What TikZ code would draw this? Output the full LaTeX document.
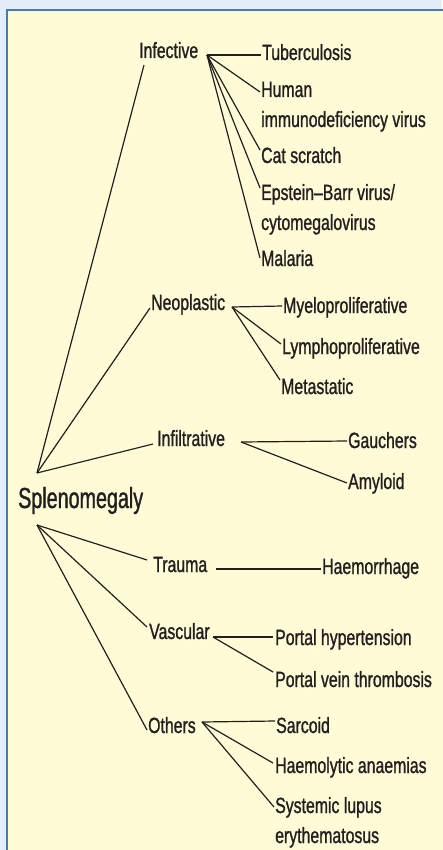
\documentclass[tikz,border=0pt]{standalone}
\usepackage{fontspec}
\setmainfont{Liberation Sans}[FakeStretch=0.72,FakeBold=1.1]
\newfontfamily\rootfont{Liberation Sans}[FakeStretch=0.68,FakeBold=1.1]
\usetikzlibrary{calc}
\definecolor{bgblue}{HTML}{E3EEFA}
\definecolor{frameblue}{HTML}{4B7BAA}
\definecolor{paper}{HTML}{FFFBD7}
\definecolor{ink}{HTML}{231F20}
\begin{document}
\begin{tikzpicture}[x=1pt,y=-1pt,
  lbl/.style={anchor=base west, inner sep=0pt, text=ink, font=\fontsize{22}{26}\selectfont},
  rootlbl/.style={anchor=base west, inner sep=0pt, text=ink, font=\rootfont\fontsize{29}{33}\selectfont},
  conn/.style={draw=ink, line width=1.2pt}]
\useasboundingbox (0,0) rectangle (442,850);
\fill[bgblue] (0,0) rectangle (442,850);
\draw[line width=2pt, draw=frameblue, fill=paper] (7,10) rectangle (470,880);

% nodes
\node[lbl] (inf) at (139,58) {Infective};
\node[lbl] (tb) at (262,60) {Tuberculosis};
\node[lbl] (hiv) at (261,97) {Human};
\node[lbl] (hivb) at (261,127) {immunodeficiency virus};
\node[lbl] (cat) at (261,163) {Cat scratch};
\node[lbl] (ebv) at (261,200) {Epstein–Barr virus/};
\node[lbl] (ebvb) at (261,230) {cytomegalovirus};
\node[lbl] (mal) at (261,266) {Malaria};
\node[lbl] (neo) at (151,310) {Neoplastic};
\node[lbl] (mye) at (283,313) {Myeloproliferative};
\node[lbl] (lym) at (282,354) {Lymphoproliferative};
\node[lbl] (met) at (281,394) {Metastatic};
\node[lbl] (infl) at (157,446) {Infiltrative};
\node[lbl] (gau) at (348,448) {Gauchers};
\node[lbl] (amy) at (348,489) {Amyloid};
\node[rootlbl] (spl) at (18,508) {Splenomegaly};
\node[lbl] (tra) at (153,572) {Trauma};
\node[lbl] (hae) at (322,574) {Haemorrhage};
\node[lbl] (vas) at (149,639) {Vascular};
\node[lbl] (ph) at (275,645) {Portal hypertension};
\node[lbl] (pvt) at (275,687) {Portal vein thrombosis};
\node[lbl] (oth) at (148,733) {Others};
\node[lbl] (sar) at (276,733) {Sarcoid};
\node[lbl] (hem) at (275,773) {Haemolytic anaemias};
\node[lbl] (sle) at (275,813) {Systemic lupus};
\node[lbl] (sleb) at (275,843) {erythematosus};

% junction points
\coordinate (rootU) at ([xshift=19pt,yshift=35pt]spl.base west);
\coordinate (rootL) at ([xshift=19pt,yshift=-17pt]spl.base west);
\coordinate (infJ) at (207,55);
\coordinate (neoJ) at (232,307);
\coordinate (inflJ) at (241,442);
\coordinate (traJ) at (216,569);
\coordinate (vasJ) at (213,637);
\coordinate (othJ) at (202,722);

% root to groups
\draw[conn] (rootU) -- ([xshift=5pt,yshift=-7pt]inf.base west);
\draw[conn] (rootU) -- ([xshift=-1pt,yshift=2pt]neo.base west);
\draw[conn] (rootU) -- ([xshift=-4pt,yshift=2pt]infl.base west);
\draw[conn] (rootL) -- ([xshift=-6pt,yshift=12pt]tra.base west);
\draw[conn] (rootL) -- ([xshift=-2pt,yshift=12pt]vas.base west);
\draw[conn] (rootL) -- ([xshift=-1pt,yshift=3pt]oth.base west);

% infective
\draw[conn] (infJ) -- ([xshift=-1pt,yshift=5pt]tb.base west);
\draw[conn] (infJ) -- ([xshift=-1pt,yshift=5pt]hiv.base west);
\draw[conn] (infJ) -- ([xshift=-1pt,yshift=13pt]cat.base west);
\draw[conn] (infJ) -- ([xshift=-1pt,yshift=12pt]ebv.base west);
\draw[conn] (infJ) -- ([xshift=-1pt,yshift=8pt]mal.base west);

% neoplastic
\draw[conn] (neoJ) -- ([xshift=-1pt,yshift=7pt]mye.base west);
\draw[conn] (neoJ) -- ([xshift=-1pt,yshift=10pt]lym.base west);
\draw[conn] (neoJ) -- ([xshift=-1pt,yshift=14pt]met.base west);

% infiltrative
\draw[conn] (inflJ) -- ([xshift=-1pt,yshift=7pt]gau.base west);
\draw[conn] (inflJ) -- ([xshift=-1pt,yshift=6pt]amy.base west);

% trauma
\draw[conn] (traJ) -- ([xshift=-1pt,yshift=5pt]hae.base west);

% vascular
\draw[conn] (vasJ) -- ([xshift=-2pt,yshift=8pt]ph.base west);
\draw[conn] (vasJ) -- ([xshift=-2pt,yshift=15pt]pvt.base west);

% others
\draw[conn] (othJ) -- ([xshift=-1pt,yshift=12pt]sar.base west);
\draw[conn] (othJ) -- ([xshift=-2pt,yshift=10pt]hem.base west);
\draw[conn] (othJ) -- ([xshift=-1pt,yshift=6pt]sle.base west);
\end{tikzpicture}
\end{document}
